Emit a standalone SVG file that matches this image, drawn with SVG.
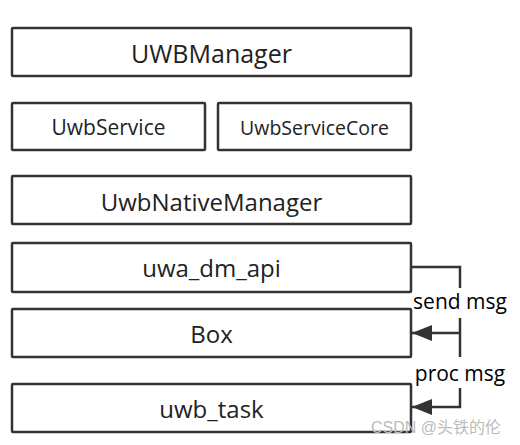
<svg xmlns="http://www.w3.org/2000/svg" width="520" height="445" viewBox="0 0 520 445">
<defs>
<style>
.box{fill:#fff;stroke:#333;stroke-width:2.5}
.t{font-family:"Open Sans","Noto Sans",sans-serif;fill:#222;text-anchor:middle;dominant-baseline:central}
.c{fill:none;stroke:#333;stroke-width:2.5}
.lbl{font-family:"Open Sans","Noto Sans",sans-serif;fill:#000;font-size:21px;text-anchor:middle}
</style>
<marker id="ah" viewBox="0 0 10 8" refX="10" refY="4" markerWidth="8" markerHeight="6.4" orient="auto" markerUnits="strokeWidth">
<path d="M0,0 L10,4 L0,8 z" fill="#333"/>
</marker>
</defs>
<rect width="520" height="445" fill="#fff"/>
<g id="uwbmanager"><rect class="box" x="12" y="28" width="399" height="48" rx="1"/><text class="t" x="211.5" y="53" font-size="25">UWBManager</text></g>
<g id="uwbservice"><rect class="box" x="12" y="103" width="193" height="47" rx="1"/><text class="t" x="108.5" y="127" font-size="21">UwbService</text></g>
<g id="uwbservicecore"><rect class="box" x="218" y="103" width="193" height="47" rx="1"/><text class="t" x="314.5" y="127" font-size="19.5">UwbServiceCore</text></g>
<g id="uwbnativemanager"><rect class="box" x="12" y="176" width="399" height="48" rx="1"/><text class="t" x="211.5" y="201" font-size="24">UwbNativeManager</text></g>
<g id="uwa_dm_api"><rect class="box" x="12" y="243" width="399" height="49" rx="1"/><text class="t" x="211.5" y="267" font-size="24">uwa_dm_api</text></g>
<g id="box"><rect class="box" x="12" y="309" width="399" height="48" rx="1"/><text class="t" x="211.5" y="333" font-size="24">Box</text></g>
<g id="uwb_task"><rect class="box" x="12" y="384" width="399" height="48" rx="1"/><text class="t" x="211.5" y="408" font-size="24">uwb_task</text></g>
<g id="connectors">
<path class="c" d="M411,267 H460 V288"/>
<path class="c" d="M460,318 V357"/>
<path class="c" d="M460,333 H412" marker-end="url(#ah)"/>
<text class="lbl" x="460" y="309">send msg</text>
<path class="c" d="M460,388 V407 H412" marker-end="url(#ah)"/>
<text class="lbl" x="460" y="381">proc msg</text>
</g>
<text x="436" y="433" font-family="'Liberation Sans','Noto Sans CJK SC',sans-serif" font-size="16" fill="#bbb" text-anchor="middle">CSDN @头铁的伦</text>
</svg>
